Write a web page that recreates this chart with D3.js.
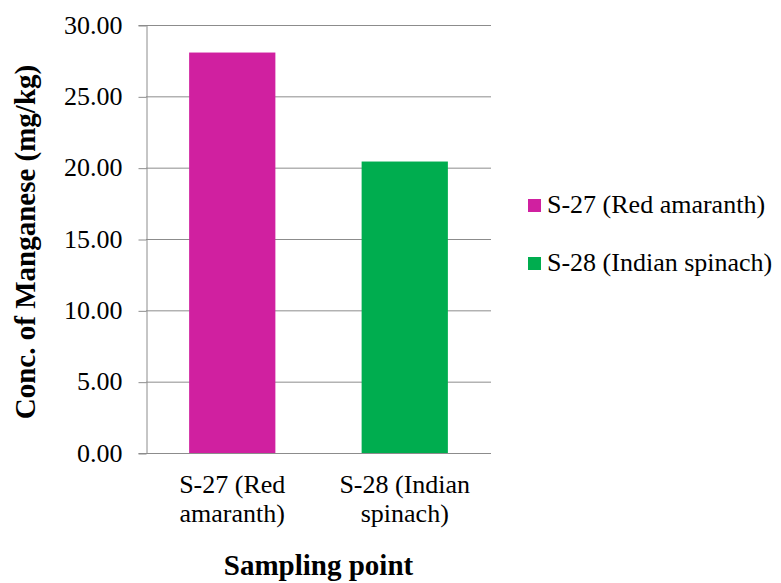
<!DOCTYPE html>
<html>
  <head>
    <meta charset="utf-8" />
    <title>Manganese concentration</title>
    <script src="https://d3js.org/d3.v7.js"></script>
    <style>
      body { margin: 0; background: #fff; }
    </style>
  </head>
  <body>
    <div id="graph"></div>
    <script>

    // data
    var categories = ["S-27 (Red amaranth)", "S-28 (Indian spinach)"];
    var labelLines = [["S-27 (Red", "amaranth)"], ["S-28 (Indian", "spinach)"]];
    var values = [28.07, 20.43];
    var colors = ["#d020a0", "#00ad4f"];
    var yTicks = [0, 5, 10, 15, 20, 25, 30];

    var serif = "Liberation Serif";
    var w = 781, h = 583;
    var margin = {top: 25, right: 290, bottom: 130, left: 146};
    var innerWidth = w - margin.left - margin.right;
    var innerHeight = h - margin.top - margin.bottom;

    var x = d3.scaleBand()
      .domain(categories)
      .range([0, innerWidth])
      .paddingInner(0.5)
      .paddingOuter(0.25);

    var y = d3.scaleLinear()
      .domain([0, 30])
      .range([innerHeight, 0]);

    var svg = d3.select("#graph")
      .append("svg")
        .attr("width", w)
        .attr("height", h)
      .append("g")
        .attr("transform", `translate(${margin.left},${margin.top})`);

    // gridlines
    svg.append("g")
      .selectAll("line")
      .data(yTicks)
      .join("line")
        .attr("x1", 0)
        .attr("x2", innerWidth)
        .attr("y1", d => y(d) + 0.5)
        .attr("y2", d => y(d) + 0.5)
        .attr("stroke", "#8c8c8c")
        .attr("stroke-width", 1);

    // y axis
    var yAxis = svg.append("g")
      .attr("transform", "translate(0.5,0)")
      .call(d3.axisLeft(y).tickValues(yTicks).tickFormat(d3.format(".2f")).tickSize(8).tickPadding(16))
      .attr("font-family", null)
      .attr("font-size", null);
    yAxis.select(".domain").attr("stroke", "#8c8c8c");
    yAxis.selectAll(".tick line").attr("stroke", "#8c8c8c").attr("transform", "translate(0,0.5)");
    yAxis.selectAll(".tick text")
      .style("font-family", serif)
      .style("font-size", "26px")
      .style("fill", "#000");

    // bars
    svg.selectAll("rect.bar")
      .data(values)
      .join("rect")
        .attr("class", "bar")
        .attr("x", (d, i) => x(categories[i]))
        .attr("y", d => y(d))
        .attr("width", x.bandwidth())
        .attr("height", d => innerHeight - y(d))
        .attr("fill", (d, i) => colors[i]);

    // x axis line
    svg.append("line")
      .attr("x1", 0)
      .attr("x2", innerWidth)
      .attr("y1", innerHeight + 0.5)
      .attr("y2", innerHeight + 0.5)
      .attr("stroke", "#8c8c8c");

    // x labels (two lines)
    var xl = svg.append("g")
      .selectAll("text")
      .data(categories)
      .join("text")
        .attr("x", d => x(d) + x.bandwidth() / 2)
        .attr("y", innerHeight + 40)
        .attr("text-anchor", "middle")
        .style("font-family", serif)
        .style("font-size", "26px");
    xl.each(function(d, i) {
      d3.select(this).selectAll("tspan")
        .data(labelLines[i])
        .join("tspan")
          .attr("x", x(d) + x.bandwidth() / 2)
          .attr("dy", (t, j) => j === 0 ? 0 : 29)
          .text(t => t);
    });

    // axis titles
    svg.append("text")
      .attr("x", innerWidth / 2)
      .attr("y", h - margin.top - 8)
      .attr("text-anchor", "middle")
      .style("font-family", serif)
      .style("font-weight", "bold")
      .style("font-size", "29px")
      .text("Sampling point");

    svg.append("text")
      .attr("transform", `translate(${35 - margin.left},${innerHeight / 2 + 3}) rotate(-90)`)
      .attr("text-anchor", "middle")
      .style("font-family", serif)
      .style("font-weight", "bold")
      .style("font-size", "29px")
      .text("Conc. of Manganese (mg/kg)");

    // legend
    var legend = svg.append("g")
      .attr("transform", `translate(${528 - margin.left},${199 - margin.top})`)
      .selectAll("g")
      .data(categories)
      .join("g")
        .attr("transform", (d, i) => `translate(0,${i * 58})`);
    legend.append("rect")
      .attr("width", 13)
      .attr("height", 13)
      .attr("fill", (d, i) => colors[i]);
    legend.append("text")
      .attr("x", 19)
      .attr("y", 14)
      .style("font-family", serif)
      .style("font-size", "26px")
      .text(d => d);

    </script>
  </body>
</html>
